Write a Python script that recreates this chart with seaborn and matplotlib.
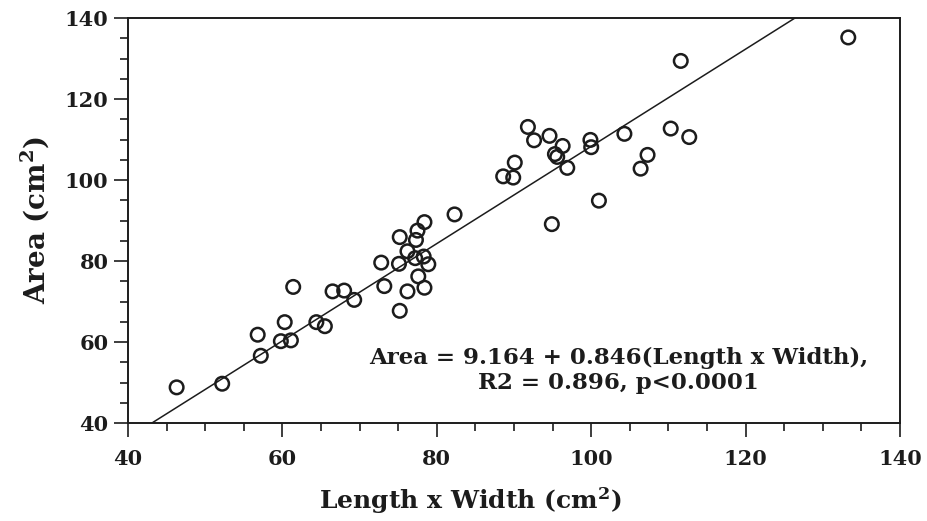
import numpy as np
import pandas as pd
import matplotlib
matplotlib.use("Agg")
import matplotlib.pyplot as plt
import seaborn as sns
from matplotlib.ticker import MultipleLocator

# ---- data ----
length_x_width = [46.3, 52.2, 57.2, 56.8, 59.8, 61.1, 60.3, 61.4, 64.4, 65.5,
                  66.5, 68.0, 69.3, 75.2, 73.2, 72.8, 75.1, 75.2, 76.2, 76.2,
                  77.3, 77.5, 78.4, 77.2, 78.3, 78.9, 77.6, 78.4, 82.3, 94.9,
                  101.0, 88.6, 89.9, 90.1, 91.8, 92.6, 94.6, 96.3, 95.3, 95.6,
                  96.9, 99.9, 100.0, 104.3, 107.3, 106.4, 110.3, 112.7, 111.6, 133.3]
area = [48.8, 49.7, 56.6, 61.8, 60.2, 60.4, 64.9, 73.6, 64.9, 63.9,
        72.5, 72.7, 70.4, 67.7, 73.8, 79.6, 79.3, 85.9, 72.5, 82.4,
        85.2, 87.5, 89.6, 80.7, 81.1, 79.2, 76.2, 73.4, 91.5, 89.1,
        94.9, 100.9, 100.6, 104.3, 113.1, 109.8, 110.9, 108.4, 106.4, 105.7,
        103.0, 109.9, 108.1, 111.4, 106.2, 102.8, 112.7, 110.6, 129.4, 135.2]

# fitted line as drawn in the reference (end points)
fit_line_x = [43.1, 126.4]
fit_line_y = [40.0, 140.0]

x_ticks = [40, 60, 80, 100, 120, 140]
y_ticks = [40, 60, 80, 100, 120, 140]
annotation = "Area = 9.164 + 0.846(Length x Width),\nR2 = 0.896, p<0.0001"
x_label = r"Length x Width (cm$^{\mathbf{2}}$)"
y_label = r"Area (cm$^{\mathbf{2}}$)"

df = pd.DataFrame({"lw": length_x_width, "area": area})
line_df = pd.DataFrame({"x": fit_line_x, "y": fit_line_y})

# ---- style ----
sns.set_theme(style="ticks")
ink = "#1c1c1c"
plt.rcParams["font.family"] = ["DejaVu Serif", "DejaVu Sans"]
plt.rcParams["font.weight"] = "bold"
plt.rcParams["mathtext.fontset"] = "dejavuserif"
plt.rcParams["text.color"] = ink
plt.rcParams["axes.labelcolor"] = ink
plt.rcParams["xtick.color"] = ink
plt.rcParams["ytick.color"] = ink

fig = plt.figure(figsize=(9.27, 5.21), dpi=100)
fig.patch.set_facecolor("white")
ax = fig.add_axes([128 / 927, 1 - 423 / 521, (900 - 128) / 927, (423 - 18) / 521])
ax.set_facecolor("white")

sns.lineplot(data=line_df, x="x", y="y", ax=ax, color=ink, linewidth=1.1)
sns.scatterplot(data=df, x="lw", y="area", ax=ax, marker="o", s=95,
                facecolor="none", edgecolor=ink, linewidth=1.8, zorder=3)

ax.set_xlim(40, 140)
ax.set_ylim(40, 140)
ax.set_xticks(x_ticks)
ax.set_yticks(y_ticks)
ax.xaxis.set_minor_locator(MultipleLocator(5))
ax.yaxis.set_minor_locator(MultipleLocator(5))
ax.tick_params(which="major", direction="out", length=10, width=1.2,
               labelsize=15, top=False, right=False)
ax.tick_params(axis="x", which="major", pad=9)
ax.tick_params(axis="y", which="major", pad=4)
ax.tick_params(which="minor", direction="out", length=5.5, width=1.2,
               top=False, right=False)
for lab in ax.get_xticklabels() + ax.get_yticklabels():
    lab.set_fontweight("bold")

for sp in ax.spines.values():
    sp.set_visible(True)
    sp.set_linewidth(1.4)
    sp.set_color(ink)

ax.set_xlabel(x_label, fontsize=18, fontweight="bold")
ax.xaxis.set_label_coords(0.443, -0.155)
ax.set_ylabel(y_label, fontsize=20, fontweight="bold", labelpad=10)

ax.text(103.5, 53.0, annotation, ha="center", va="center", multialignment="center",
        fontsize=16.5, fontweight="bold", color=ink, linespacing=1.2)

fig.savefig("out.png", dpi=100, facecolor="white")
